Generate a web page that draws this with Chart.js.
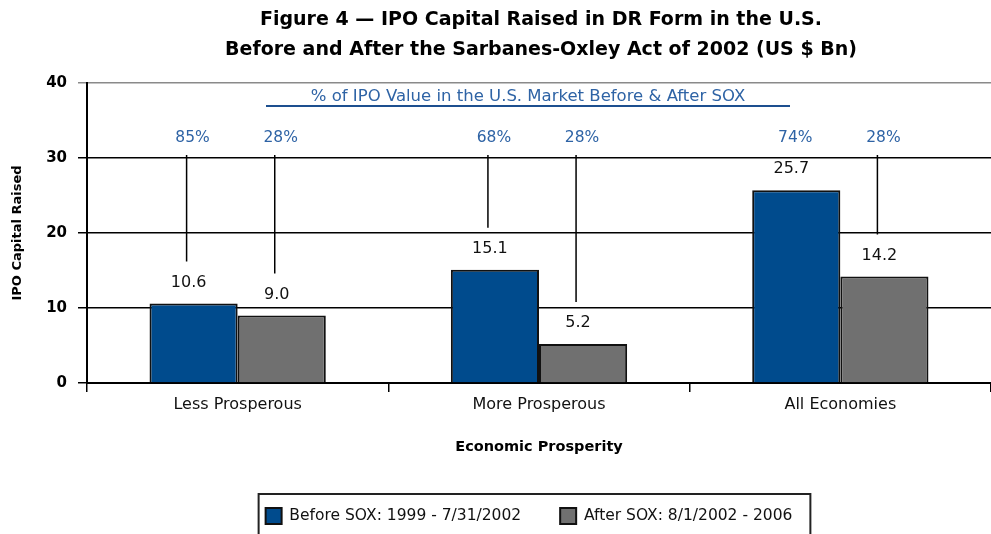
<!DOCTYPE html>
<html>
<head>
<meta charset="utf-8">
<script src="https://cdn.jsdelivr.net/npm/chart.js@4/dist/chart.umd.min.js"></script>
<style>
  html, body { margin: 0; padding: 0; background: #fff; }
  #wrap { width: 991px; height: 534px; }
</style>
</head>
<body>
<div id="wrap"><canvas id="chart" width="991" height="534"></canvas></div>
<script>
const categories = ['Less Prosperous', 'More Prosperous', 'All Economies'];
const beforeSox = [10.6, 15.1, 25.7];
const afterSox = [9.0, 5.2, 14.2];
const beforeShare = [85, 68, 74];
const afterShare = [28, 28, 28];
const yTicks = [0, 10, 20, 30, 40];
const seriesLabels = ['Before SOX: 1999 - 7/31/2002', 'After SOX: 8/1/2002 - 2006'];
const titleLines = [
    'Figure 4 \u2014 IPO Capital Raised in DR Form in the U.S.',
    'Before and After the Sarbanes-Oxley Act of 2002 (US $ Bn)',
];
const shareTitle = '% of IPO Value in the U.S. Market Before & After SOX';

const FONT = '"DejaVu Sans", sans-serif';
const BLUE = '#004b8d';
const GREY = '#707070';
const LABEL_BLUE = '#2e63a5';

// title, share labels, leader lines, value labels, legend frame
const annotations = {
    id: 'annotations',
    afterLayout(chart) {
        // legend sits a little left of the plot centre in the original
        chart.legend.left -= 10;
        chart.legend.right -= 10;
    },
    afterDatasetsDraw(chart) {
        const { ctx, chartArea, scales: { y } } = chart;
        const cx = (chartArea.left + chartArea.right) / 2;
        ctx.save();

        ctx.fillStyle = '#000';
        ctx.font = 'bold 19px ' + FONT;
        ctx.textAlign = 'center';
        ctx.textBaseline = 'middle';
        titleLines.forEach((line, i) => ctx.fillText(line, cx + 2, 20 + i * 30));

        ctx.fillStyle = LABEL_BLUE;
        ctx.font = '16.5px ' + FONT;
        ctx.fillText(shareTitle, cx - 11, chartArea.top + 14);
        ctx.strokeStyle = '#1d4f8f';
        ctx.lineWidth = 2;
        ctx.beginPath();
        ctx.moveTo(cx - 273, chartArea.top + 23);
        ctx.lineTo(cx + 251, chartArea.top + 23);
        ctx.stroke();

        const shares = [beforeShare, afterShare];
        const lineTop = y.getPixelForValue(30) - 3;
        chart.data.datasets.forEach((ds, di) => {
            const meta = chart.getDatasetMeta(di);
            meta.data.forEach((bar, i) => {
                ctx.fillStyle = LABEL_BLUE;
                ctx.font = '15.5px ' + FONT;
                ctx.fillText(shares[di][i] + '%', bar.x - 1, chartArea.top + 55);

                const lineBottom = bar.y - 42;
                if (lineBottom > lineTop + 4) {
                    ctx.strokeStyle = '#000';
                    ctx.lineWidth = 1.5;
                    ctx.beginPath();
                    ctx.moveTo(bar.x - 7, lineTop);
                    ctx.lineTo(bar.x - 7, lineBottom);
                    ctx.stroke();
                }

                ctx.fillStyle = '#111';
                ctx.font = '16px ' + FONT;
                ctx.fillText(ds.data[i].toFixed(1), bar.x - 5, bar.y - 21);
            });
        });

        const boxes = chart.legend.legendHitBoxes;
        if (boxes && boxes.length) {
            const first = boxes[0];
            const last = boxes[boxes.length - 1];
            const left = first.left - 7;
            const right = last.left + last.width + 18;
            const top = first.top + first.height / 2 - 22;
            ctx.strokeStyle = '#222';
            ctx.lineWidth = 2;
            ctx.strokeRect(left, top, right - left, 80);
        }
        ctx.restore();
    },
};

new Chart(document.getElementById('chart'), {
    type: 'bar',
    data: {
        labels: categories,
        datasets: [
            {
                label: seriesLabels[0],
                data: beforeSox,
                backgroundColor: BLUE,
                borderColor: '#111',
                borderWidth: 2,
            },
            {
                label: seriesLabels[1],
                data: afterSox,
                backgroundColor: GREY,
                borderColor: '#111',
                borderWidth: 2,
            },
        ],
    },
    options: {
        responsive: false,
        animation: false,
        devicePixelRatio: 1,
        layout: { padding: { top: 83, left: 0, right: 0, bottom: 0 } },
        datasets: {
            bar: { categoryPercentage: 0.585, barPercentage: 1.0 },
        },
        plugins: {
            title: { display: false },
            tooltip: { enabled: false },
            legend: {
                position: 'bottom',
                fullSize: false,
                labels: {
                    color: '#111',
                    font: { family: FONT, size: 15.5 },
                    boxWidth: 16,
                    boxHeight: 16,
                    padding: 39,
                },
            },
        },
        scales: {
            x: {
                afterFit: scale => { scale.height = 86; },
                grid: {
                    offset: true,
                    drawOnChartArea: false,
                    drawTicks: true,
                    tickLength: 9,
                    color: '#000',
                    lineWidth: 1.5,
                },
                border: { color: '#000', width: 2 },
                ticks: {
                    color: '#111',
                    font: { family: FONT, size: 16 },
                    padding: 3,
                },
                title: {
                    display: true,
                    text: 'Economic Prosperity',
                    color: '#000',
                    font: { family: FONT, size: 14.5, weight: 'bold' },
                    padding: { top: 0, bottom: 13 },
                },
            },
            y: {
                min: 0,
                max: 40,
                afterFit: scale => { scale.width = 87; },
                afterBuildTicks: scale => { scale.ticks = yTicks.map(v => ({ value: v })); },
                grid: {
                    color: ctx => (ctx.tick && ctx.tick.value === 40 ? '#8a8a8a' : '#000'),
                    lineWidth: 1.5,
                    tickLength: 9,
                },
                border: { color: '#000', width: 2 },
                ticks: {
                    color: '#000',
                    font: { family: FONT, size: 15, weight: 'bold' },
                    padding: 11,
                },
                title: {
                    display: true,
                    text: 'IPO Capital Raised',
                    color: '#000',
                    font: { family: FONT, size: 13, weight: 'bold' },
                    padding: { top: 10, bottom: 0 },
                },
            },
        },
    },
    plugins: [annotations],
});
</script>
</body>
</html>
